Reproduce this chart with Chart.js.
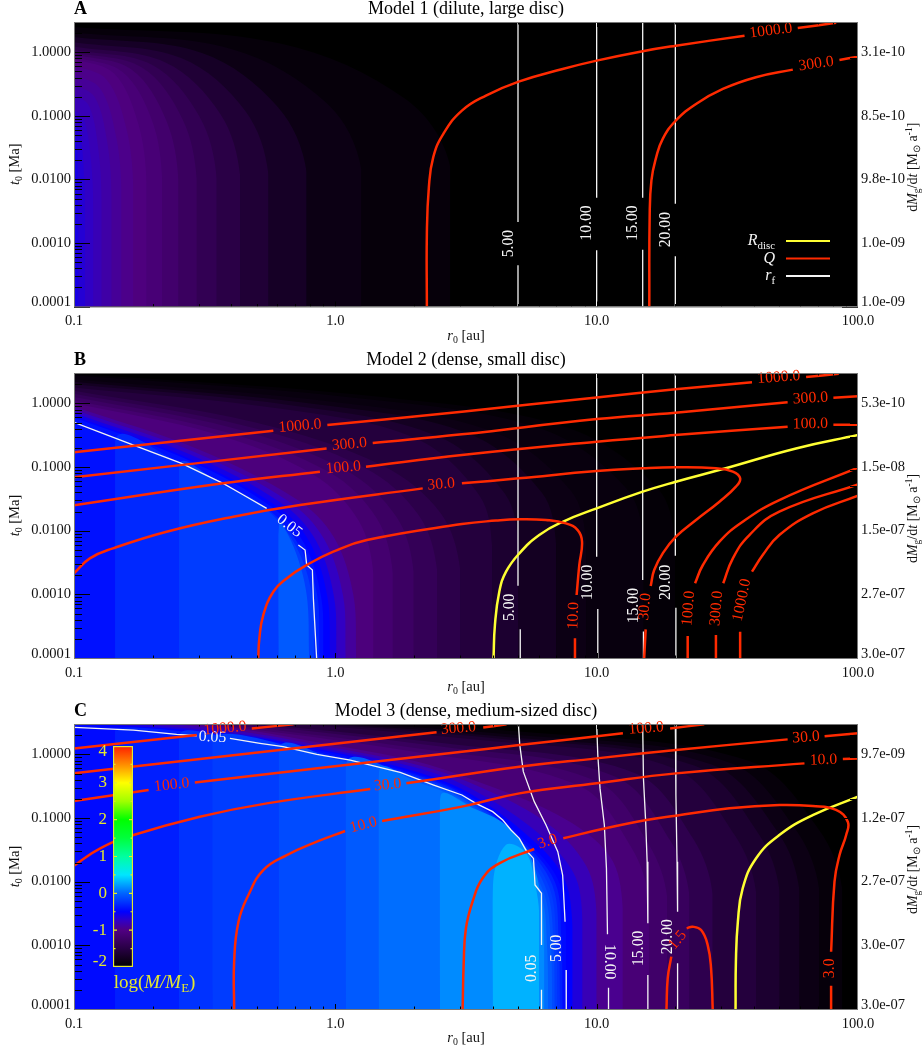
<!DOCTYPE html>
<html>
<head>
<meta charset="utf-8">
<title>Models</title>
<style>
body { margin: 0; background: #fff; }
canvas { position: absolute; }
</style>
<script src="https://cdn.jsdelivr.net/npm/chart.js@4"></script>
</head>
<body>
<canvas id="panelA" width="924" height="345" style="left:0px;top:0px"></canvas>
<canvas id="panelB" width="924" height="350" style="left:0px;top:345px"></canvas>
<canvas id="panelC" width="924" height="357" style="left:0px;top:695px"></canvas>
<canvas id="colourBar" width="140" height="270" style="left:74px;top:736px"></canvas>
<script>
// axis labels
const xLabels = ["0.1", "1.0", "10.0", "100.0"];
const xTicks = [0.1, 1, 10, 100];
const tLabels = ["0.0001", "0.0010", "0.0100", "0.1000", "1.0000"];
const tTicks = [1.156e-4, 1e-3, 1e-2, 0.1, 1];
const rateLabelsA = ["1.0e-09", "1.0e-09", "9.8e-10", "8.5e-10", "3.1e-10"];
const rateLabelsB = ["3.0e-07", "2.7e-07", "1.5e-07", "1.5e-08", "5.3e-10"];
const rateLabelsC = ["3.0e-07", "3.0e-07", "2.7e-07", "1.2e-07", "9.7e-09"];

// colour table of the colour bar: log(M/ME) and rgb
const colourValues = [-2, -1.5, -1, -0.75, -0.5, 0, 0.5, 1, 1.5, 2, 2.5, 3, 3.5, 4];
const colourStops = [[0,0,0],[40,0,68],[80,0,130],[50,0,195],[0,0,255],[0,100,255],[0,230,255],[0,255,160],[0,255,60],[0,255,0],[160,255,0],[255,255,0],[255,140,0],[255,30,0]];
const barTicks = [-1.84, -1, 0, 1, 2, 3, 3.84];
const barLabels = ["-2", "-1", "0", "1", "2", "3", "4"];

// filled contours: level and its boundary as [log r, log t], region below the boundary is above the level
const levelsA = [-1.93,-1.85,-1.72,-1.6,-1.48,-1.38,-1.28,-1.18,-1.1,-1.03,-0.97,-0.92,-0.86,-0.8,-0.74,-0.68,-0.62];
const bandsA = [
  [[-1,.4],[-.21,.14],[.27,-.74],[.44,-1.8],[.44,-4]],
  [[-1,.31],[-.395,.05],[-.03,-.81],[.1,-1.85],[.1,-4]],
  [[-1,.24],[-.51,-.01],[-.22,-.86],[-.11,-1.88],[-.11,-4]],
  [[-1,.16],[-.59,-.09],[-.345,-.92],[-.256,-1.92],[-.256,-4]],
  [[-1,.09],[-.65,-.16],[-.44,-.97],[-.364,-1.95],[-.364,-4]],
  [[-1,.04],[-.7,-.2],[-.52,-1.01],[-.454,-1.98],[-.454,-4]],
  [[-1,0],[-.74,-.24],[-.586,-1.04],[-.53,-2],[-.53,-4]],
  [[-1,-.03],[-.78,-.27],[-.648,-1.06],[-.6,-2.02],[-.6,-4]],
  [[-1,-.07],[-.814,-.31],[-.7,-1.09],[-.662,-2.03],[-.662,-4]],
  [[-1,-.1],[-.847,-.33],[-.755,-1.11],[-.722,-2.05],[-.722,-4]],
  [[-1,-.2],[-.875,-.43],[-.8,-1.19],[-.773,-2.1],[-.773,-4]],
  [[-1,-.35],[-.9,-.57],[-.84,-1.3],[-.818,-2.18],[-.818,-4]],
  [[-1,-.5],[-.92,-.71],[-.873,-1.41],[-.856,-2.25],[-.856,-4]],
  [[-1,-.65],[-.942,-.85],[-.907,-1.52],[-.894,-2.33],[-.894,-4]],
  [[-1,-.9],[-.96,-1.09],[-.935,-1.71],[-.926,-2.45],[-.926,-4]],
  [[-1,-1.1],[-.977,-1.27],[-.963,-1.85],[-.958,-2.55],[-.958,-4]],
  [[-1,-1.3],[-.99,-1.46],[-.985,-2],[-.983,-2.65],[-.983,-4]]
];

const levelsB = [-1.95,-1.9,-1.85,-1.75,-1.65,-1.55,-1.45,-1.35,-1.25,-1.15,-1.05,-0.9,-0.75,-0.6,-0.5,-0.42,-0.3,-0.2,-0.05];
const bandsB = [
  [[-1,.47],[.15,.11],[.886,-.38],[1.231,-1.32],[1.3,-2.17],[1.3,-4]],
  [[-1,.44],[.09,.08],[.788,-.4],[1.115,-1.34],[1.18,-2.18],[1.18,-4]],
  [[-1,.38],[-.02,.03],[.607,-.45],[.901,-1.37],[.96,-2.2],[.96,-4]],
  [[-1,.34],[-.08,-.01],[.513,-.48],[.79,-1.4],[.845,-2.22],[.845,-4]],
  [[-1,.3],[-.15,-.04],[.394,-.52],[.649,-1.42],[.7,-2.24],[.7,-4]],
  [[-1,.25],[-.2,-.09],[.312,-.56],[.552,-1.45],[.6,-2.26],[.6,-4]],
  [[-1,.2],[-.305,-.3],[.182,-.98],[.404,-1.73],[.478,-2.61],[.478,-4]],
  [[-1,.15],[-.347,-.35],[.112,-1.01],[.32,-1.76],[.39,-2.63],[.39,-4]],
  [[-1,.1],[-.389,-.39],[.04,-1.05],[.235,-1.79],[.3,-2.65],[.3,-4]],
  [[-1,.05],[-.427,-.44],[-.024,-1.08],[.159,-1.81],[.22,-2.66],[.22,-4]],
  [[-1,0],[-.461,-.48],[-.083,-1.12],[.089,-1.84],[.146,-2.68],[.146,-4]],
  [[-1,-.05],[-.525,-.72],[-.147,-1.51],[-.006,-2.1],[.069,-3.01],[.08,-4]],
  [[-1,-.1],[-.542,-.76],[-.178,-1.54],[-.043,-2.13],[.03,-3.03],[.04,-4]],
  [[-1,-.15],[-.558,-.8],[-.206,-1.57],[-.075,-2.15],[-.005,-3.04],[.005,-4]],
  [[-1,-.2],[-.569,-.85],[-.226,-1.61],[-.098,-2.18],[-.03,-3.05],[-.02,-4]],
  [[-1,-.22],[-.58,-.86],[-.246,-1.62],[-.121,-2.19],[-.054,-3.05],[-.045,-4]],
  [[-.843,-4],[-.84,-.55],[-.6,-.92],[-.43,-1.26],[-.26,-1.65],[-.14,-2.22],[-.07,-3],[-.06,-4]],
  [[-.598,-4],[-.595,-.95],[-.43,-1.29],[-.26,-1.68],[-.15,-2.25],[-.09,-3],[-.08,-4]],
  [[-.218,-4],[-.215,-1.9],[-.16,-2.25],[-.11,-3],[-.1,-4]]
];

const levelsC = [-1.93,-1.85,-1.75,-1.65,-1.55,-1.42,-1.3,-1.2,-1.1,-0.95,-0.8,-0.65,-0.5,-0.45,-0.35,-0.25,-0.2,-0.125,-0.05,0.04,0.15,0.3];
const bandsC = [
  [[-1,.75],[.764,.34],[1.587,-.11],[1.85,-1.18],[1.94,-2.12],[1.94,-4]],
  [[-1,.75],[.71,.3],[1.51,-.13],[1.765,-1.2],[1.852,-2.13],[1.852,-4]],
  [[-1,.75],[.666,.27],[1.44,-.16],[1.693,-1.22],[1.776,-2.14],[1.776,-4]],
  [[-1,.75],[.62,.25],[1.376,-.18],[1.62,-1.25],[1.7,-2.15],[1.7,-4]],
  [[-1,.75],[.566,.22],[1.297,-.22],[1.53,-1.28],[1.61,-2.17],[1.61,-4]],
  [[-1,.75],[.466,.15],[1.15,-.3],[1.37,-1.33],[1.444,-2.2],[1.444,-4]],
  [[-1,.75],[.41,.12],[1.072,-.35],[1.284,-1.37],[1.355,-2.22],[1.355,-4]],
  [[-1,.75],[.36,.07],[.998,-.42],[1.2,-1.42],[1.27,-2.25],[1.27,-4]],
  [[-1,.75],[.32,.03],[.936,-.5],[1.134,-1.47],[1.2,-2.3],[1.2,-4]],
  [[-1,.65],[-.4,.42],[0,.14],[.3,-.1],[.5,-.36],[.85,-.95],[1.05,-1.6],[1.1,-2.4],[1.1,-4]],
  [[-1,.6],[-.4,.38],[0,.1],[.3,-.15],[.5,-.42],[.8,-1.05],[.96,-1.75],[1,-2.5],[1,-4]],
  [[-1,.55],[-.4,.34],[0,.06],[.3,-.2],[.5,-.5],[.75,-1.15],[.91,-1.85],[.946,-2.6],[.946,-4]],
  [[-1,.5],[-.4,.32],[0,.03],[.3,-.26],[.5,-.58],[.72,-1.22],[.87,-1.9],[.908,-2.7],[.908,-4]],
  [[-1,.46],[-.4,.3],[0,.01],[.3,-.29],[.5,-.62],[.7,-1.25],[.85,-1.95],[.883,-2.8],[.883,-4]],
  [[-.843,-4],[-.84,.4],[-.4,.27],[0,-.02],[.3,-.31],[.5,-.65],[.7,-1.3],[.84,-2],[.865,-2.9],[.87,-4]],
  [[-.598,-4],[-.595,.31],[-.4,.26],[0,-.04],[.3,-.33],[.5,-.67],[.7,-1.33],[.83,-2.05],[.855,-3],[.86,-4]],
  [[-.47,-4],[-.467,.26],[0,-.06],[.3,-.35],[.5,-.69],[.7,-1.37],[.82,-2.1],[.845,-3],[.85,-4]],
  [[-.216,-4],[-.213,.1],[0,-.08],[.3,-.37],[.5,-.71],[.7,-1.42],[.81,-2.15],[.835,-3],[.84,-4]],
  [[.04,-4],[.043,-.13],[.3,-.39],[.5,-.74],[.7,-1.48],[.8,-2.2],[.825,-3],[.83,-4]],
  [[.166,-4],[.169,-.23],[.3,-.41],[.5,-.77],[.7,-1.55],[.79,-2.25],[.81,-3],[.815,-4]],
  [[.4,-4],[.403,-.65],[.53,-.85],[.65,-1.1],[.74,-1.55],[.785,-2.2],[.8,-3],[.8,-4]],
  [[.602,-4],[.604,-2],[.653,-1.42],[.73,-1.55],[.765,-2.05],[.78,-2.5],[.78,-4]]
];

// Q contours as [r, t], null = gap for a label
const qLinesA = [
  [[2.24,1e-4],[2.24,.0014],[2.28,.00758],[2.37,.0224],[2.59,.0521],[3.05,.121],[3.77,.209],[5.03,.346],[7.41,.547],[10,.74],[15,1.04],[20.1,1.27],[36.8,1.83],null,[58.8,2.41],[82.5,2.92]],
  [[15.9,1e-4],[15.95,.00256],[16.2,.00964],[16.9,.0224],[17.9,.0435],[20.1,.0845],[24,.154],[30.4,.265],[40.7,.405],[56.3,.534],null,[84.9,.758],[100,.855]]
];
const qLinesB = [
  [[.1,.17],[.579,.372],null,[.932,.457],[3.05,.74],[10,1.24],[20,1.66],[39.3,2.14],null,[63.3,2.59],[84.4,2.92]],
  [[.1,.0689],[.926,.196],null,[1.39,.238],[3.05,.326],[10,.567],[20,.713],[53.8,1.04],null,[80.5,1.23],[100,1.29]],
  [[.1,.025],[.372,.0554],[.873,.0845],null,[1.31,.101],[3.05,.154],[10,.25],[20,.318],[53.8,.43],null,[80.5,.462],[100,.462]],
  [[.1,.00214],[.115,.00368],[.141,.00528],[.226,.00964],[.407,.0166],[.733,.0253],[2.16,.0462],null,[3.05,.0554],[5.03,.0664],[10,.0865],[15,.0953],[20,.0988],[28.6,.0953],[33.2,.0845],[35.4,.0664],[34.1,.0491],[29.5,.0285],[24,.0147],[20.1,.00805],[17.9,.00441],[16.6,.00241],[16.1,.00135],null,[15.4,.000282],[15.2,1e-4]],
  [[.507,1e-4],[.512,.000204],[.53,.000473],[.579,.0011],[.651,.00178],[.777,.00289],[.982,.00468],[1.32,.00713],[3.05,.0127],[4.12,.0144],[5.03,.0151],[6.4,.0147],[7.63,.013],[8.46,.0102],[8.79,.00671],[8.58,.00289],[8.38,.000977],null,[8.26,.000204],[8.26,1e-4]],
  [[22.3,1e-4],[22.3,.000222],null,[23.8,.00149],[25.5,.00289],[29.5,.00671],[36.2,.0138],[50,.0303],[100,.0977]],
  [[28.6,1e-4],[28.6,.00023],null,[30.5,.00149],[33.2,.00368],[38.4,.00855],[50,.0199],[100,.0534]],
  [[35.4,1e-4],[35.4,.000259],null,[39.3,.00227],[43.2,.00415],[50,.00855],[67.1,.0187],[100,.0355]]
];
const qLinesC = [
  [[.1,1.24],[.295,2.01],null,[.479,2.56],[.692,2.96]],
  [[.1,.503],[2.44,2.22],null,[3.68,2.65],[4.52,2.96]],
  [[.1,.185],[.193,.275],null,[.29,.363],[3.05,1.1],[5.06,1.4],[12.6,2.14],null,[19.1,2.56],[25.8,2.96]],
  [[.1,.0178],[.126,.0334],[.169,.0541],[.303,.105],[.547,.17],[1.36,.285],null,[1.87,.351],[3.05,.473],[5.06,.64],[10,.865],[20.1,1.17],[53.8,1.72],null,[74.5,1.92],[100,2.14]],
  [[.41,1e-4],[.41,.000553],[.426,.00235],[.465,.00617],[.531,.0153],[.652,.0262],[.849,.0425],[1.09,.0625],null,[1.51,.0897],[3.05,.151],[5.06,.244],[10,.351],[20.1,.503],[62.4,.722],null,[87.5,.845],[100,.865]],
  [[3.07,1e-4],[3.1,.000553],[3.16,.00185],[3.35,.00485],[3.66,.0113],[4.24,.0194],[5.77,.0326],null,[7.45,.048],[10.5,.0672],[15.5,.0931],[20.1,.109],[32.2,.142],[50,.16],[67.1,.154],[82.4,.134],[91.4,.0875],[90.1,.0541],[85,.0262],[81.3,.01],[78.9,.000794],null,[78.9,.000232],[78.9,1e-4]],
  [[18.5,1e-4],[18.7,.000303],[19.3,.000664],null,[22.1,.00185],[23.3,.00196],[25.1,.00174],[26.6,.00101],[27.4,.000435],[27.8,1e-4]]
];

// disc radius contours
const discLinesB = [[[4.03,1e-4],[4.08,.00033],[4.24,.0011],[4.5,.00227],[5.06,.00441],[6.03,.00855],[7.41,.0138],[10,.0224],[15,.041],[20.1,.0588],[30.4,.093],[57.9,.196],[100,.318]]];
const discLinesC = [[[34,1e-4],[34.1,.000553],[34.7,.00235],[36.2,.00785],[40.7,.0232],[50,.0541],[67.1,.111],[100,.216]]];

// r_f contours, these are drawn straight from point to point
const rfLinesA = [
  [[5,3],[5,.00214],null,[5,.000446],[5,1e-4]],
  [[10,3],[10,.00515],null,[10,.000767],[10,1e-4]],
  [[15,3],[15,.00515],null,[15,.000785],[15,1e-4]],
  [[20,3],[20,.00415],null,[20,.000618],[20,1e-4]]
];
const rfLinesB = [
  [[.1,.503],[.126,.35],[.168,.222],[.258,.114],[.372,.0554],[.445,.0363],[.546,.0224],null,[.722,.00596],[.766,.00497],[.777,.00289],[.817,.00241],[.824,.000865],[.848,1e-4]],
  [[5,3],[5,.00137],null,[5.1,.000282],[5.1,1e-4]],
  [[10,3],[10,.00391],null,[10.1,.000589],[10.1,1e-4]],
  [[15,3],[15,.00168],null,[15.1,.00026],[15.1,1e-4]],
  [[20,3],[20,.00405],null,[20.1,.000617],[20.1,1e-4]]
];
const rfLinesC = [
  [[.1,2.65],[.169,2.41],[.247,2.06],[.295,1.96],null,[.395,1.78],[.515,1.49],[.631,1.32],[.849,1],[1.14,.815],[1.44,.64],[1.77,.52],[2.38,.33],[3.05,.23],[3.45,.17],[4,.126],[4.37,.0931],[4.7,.0649],[5.06,.048],[5.36,.0314],[5.73,.0232],[5.81,.00887],[6.15,.00656],[6.15,.00101],null,[6.15,.0002],[6.15,1e-4]],
  [[5.02,2.89],[5.08,1.4],[5.24,.535],[5.77,.181],[6.4,.0776],[7.1,.0296],[7.41,.0127],[7.57,.00235],null,[7.64,.00041],[7.65,1e-4]],
  [[10,2.96],[10.1,.977],[10.3,.292],[10.7,.0776],[10.9,.0162],[11,.00149],null,[11.1,.000216],[11.1,1e-4]],
  [[15,2.96],[15.1,.42],[15.4,.0875],[15.6,.0206],[15.7,.00222],null,[15.7,.000342],[15.7,1e-4]],
  [[20,2.96],[20.1,.23],[20.3,.0206],[20.4,.00338],null,[20.4,.000521],[20.4,1e-4]]
];

// contour labels: text, log r, log t, angle
const qTextA = [["1000.0",1.667,.34,-7],["300.0",1.84,-.183,-8]];
const rfTextA = [["5.00",.663,-3.01,-90],["10.00",.963,-2.686,-90],["15.00",1.14,-2.686,-90],["20.00",1.265,-2.79,-90]];
const qTextB = [["1000.0",-.135,-.356,-5],["300.0",.054,-.644,-5],["100.0",.031,-1.01,-5],["30.0",.405,-1.272,-5],["1000.0",1.697,.408,-4],["300.0",1.818,.079,-3],["100.0",1.818,-.325,-1],["10.0",.912,-3.335,-88],["30.0",1.185,-3.194,-85],["100.0",1.352,-3.22,-85],["300.0",1.459,-3.22,-85],["1000.0",1.556,-3.09,-78]];
const rfTextB = [["0.05",-.176,-1.927,38],["5.00",.668,-3.204,-90],["10.00",.966,-2.812,-90],["15.00",1.142,-3.178,-90],["20.00",1.265,-2.812,-90]];
const qTextC = [["1000.0",-.422,.408,-5],["100.0",-.626,-.482,-6],["30.0",.2,-.482,-6],["10.0",.108,-1.11,-15],["300.0",.471,.408,-5],["100.0",1.189,.408,-4],["30.0",1.801,.267,-4],["10.0",1.868,-.089,-2],["3.0",.812,-1.372,-18],["3.0",1.891,-3.361,-90],["1.5",1.31,-2.916,-50]];
const rfTextC = [["0.05",-.47,.267,3],["0.05",.752,-3.361,-90],["5.00",.847,-3.047,-90],["10.00",1.048,-3.257,90],["15.00",1.16,-3.047,-90],["20.00",1.274,-2.864,-90]];

const RED = "#ff2a00";
const YELLOW = "#ffff33";
const WHITE = "#f4f4f4";
const BAR_YELLOW = "#e4e830";
const SERIF = "'Liberation Serif'";

function levelColour(v) {
    let i = 0;
    while (i < colourValues.length - 2 && v > colourValues[i + 1]) i++;
    const f = (v - colourValues[i]) / (colourValues[i + 1] - colourValues[i]);
    const c = colourStops[i].map((a, k) => Math.round(a + (colourStops[i + 1][k] - a) * f));
    return "rgb(" + c.join(",") + ")";
}

function toPoints(line) {
    return line.map(p => p ? { x: p[0], y: p[1] } : { x: NaN, y: NaN });
}

function bandSets(levels, bands) {
    return bands.map((band, i) => ({
        data: band.map(p => ({ x: 10 ** p[0], y: 10 ** p[1] })),
        showLine: true,
        fill: "start",
        backgroundColor: levelColour(levels[i]),
        borderWidth: 0,
        borderColor: "rgba(0,0,0,0)",
        pointRadius: 0,
        tension: 0.35,
        order: 1000 - i
    }));
}

function lineSets(lines, colour, width, tension, order) {
    return lines.map(line => ({
        data: toPoints(line),
        showLine: true,
        borderColor: colour,
        borderWidth: width,
        pointRadius: 0,
        tension: tension,
        order: order
    }));
}

// mixed italic / subscript text
function drawRuns(ctx, runs, x, y, size, colour, angle, align) {
    ctx.save();
    ctx.translate(x, y);
    ctx.rotate(angle);
    ctx.fillStyle = colour;
    ctx.textBaseline = "alphabetic";
    ctx.textAlign = "left";
    let total = 0;
    const fontOf = r => (r.i ? "italic " : "") + (r.sub || r.sup ? size * 0.68 : size) + "px " + SERIF;
    runs.forEach(r => { ctx.font = fontOf(r); total += ctx.measureText(r.t).width; });
    let cx = align === "right" ? -total : -total / 2;
    runs.forEach(r => {
        ctx.font = fontOf(r);
        ctx.fillText(r.t, cx, r.sub ? size * 0.22 : r.sup ? -size * 0.38 : 0);
        cx += ctx.measureText(r.t).width;
    });
    ctx.restore();
}

const framePlugin = {
    id: "frame",
    beforeDatasetsDraw(chart) {
        const a = chart.chartArea;
        chart.ctx.fillStyle = "#000";
        chart.ctx.fillRect(a.left, a.top, a.width, a.height);
    },
    afterDatasetsDraw(chart, args, opts) {
        const ctx = chart.ctx;
        const a = chart.chartArea;
        const sx = chart.scales.x;
        const sy = chart.scales.y;

        // contour labels
        ctx.textAlign = "center";
        ctx.textBaseline = "middle";
        ctx.font = "15.7px " + SERIF;
        [[opts.rfText, WHITE], [opts.qText, RED]].forEach(([list, colour]) => {
            list.forEach(l => {
                ctx.save();
                ctx.translate(sx.getPixelForValue(10 ** l[1]), sy.getPixelForValue(10 ** l[2]));
                ctx.rotate(l[3] * Math.PI / 180);
                ctx.fillStyle = colour;
                ctx.fillText(l[0], 0, 0);
                ctx.restore();
            });
        });

        // ticks point inside the frame
        ctx.strokeStyle = "#000";
        ctx.lineWidth = 1;
        ctx.beginPath();
        for (let d = -1; d < 2; d++) {
            for (let m = 1; m < 10; m++) {
                const px = Math.round(sx.getPixelForValue(m * 10 ** d)) + 0.5;
                const len = m === 1 ? 5 : 2.5;
                ctx.moveTo(px, a.bottom); ctx.lineTo(px, a.bottom - len);
                ctx.moveTo(px, a.top); ctx.lineTo(px, a.top + len);
            }
        }
        for (let d = -4; d < 1; d++) {
            for (let m = 1; m < 10; m++) {
                const v = m * 10 ** d;
                if (v > 3) continue;
                const py = Math.round(sy.getPixelForValue(v)) + 0.5;
                const len = m === 1 ? 16 : 8;
                ctx.moveTo(a.left, py); ctx.lineTo(a.left + len, py);
                ctx.moveTo(a.right, py); ctx.lineTo(a.right - len, py);
            }
        }
        ctx.stroke();
        ctx.strokeStyle = "#777";
        ctx.strokeRect(a.left + 0.5, a.top + 0.5, a.width - 1, a.height);

        // headings and axis titles
        const mid = (a.top + a.bottom) / 2;
        ctx.textBaseline = "alphabetic";
        ctx.fillStyle = "#000";
        ctx.textAlign = "left";
        ctx.font = "bold 18px " + SERIF;
        ctx.fillText(opts.letter, a.left, a.top - 8);
        ctx.textAlign = "center";
        ctx.font = "18px " + SERIF;
        ctx.fillText(opts.title, 466, a.top - 8);
        drawRuns(ctx, [{ t: "r", i: true }, { t: "0", sub: true }, { t: " [au]" }], 466, a.bottom + 33, 14.5, "#111", 0);
        drawRuns(ctx, [{ t: "t", i: true }, { t: "0", sub: true }, { t: " [Ma]" }], 19, mid, 14.5, "#111", -Math.PI / 2);
        drawRuns(ctx, [{ t: "d" }, { t: "M", i: true }, { t: "g", sub: true }, { t: "/d" }, { t: "t", i: true }, { t: " [M" }, { t: "\u2299", sub: true }, { t: " a" }, { t: "-1", sup: true }, { t: "]" }], 917, mid + 3, 14, "#111", -Math.PI / 2);

        // key, only in the first panel
        if (opts.key) {
            const keys = [
                [[{ t: "R", i: true }, { t: "disc", sub: true }], YELLOW, 241],
                [[{ t: "Q", i: true }], RED, 258.5],
                [[{ t: "r", i: true }, { t: "f", sub: true }], WHITE, 276]
            ];
            keys.forEach(k => {
                ctx.strokeStyle = k[1];
                ctx.lineWidth = 2.2;
                ctx.beginPath();
                ctx.moveTo(786, k[2]);
                ctx.lineTo(830, k[2]);
                ctx.stroke();
                drawRuns(ctx, k[0], 775, k[2] + 4, 16, "#f4f4f4", 0, "right");
            });
        }
    }
};

function noLabelPadding(s) {
    s.paddingTop = 0;
    s.paddingBottom = 0;
    s.paddingLeft = 0;
    s.paddingRight = 0;
}

function makePanel(id, height, top, bottom, letter, title, rateLabels, sets, qText, rfText, key) {
    return new Chart(document.getElementById(id), {
        type: "scatter",
        data: { datasets: sets },
        plugins: [framePlugin],
        options: {
            responsive: false,
            animation: false,
            events: [],
            layout: { padding: { top: top } },
            plugins: {
                legend: { display: false },
                tooltip: { enabled: false },
                frame: { letter: letter, title: title, qText: qText, rfText: rfText, key: key }
            },
            scales: {
                x: {
                    type: "logarithmic",
                    min: 0.1,
                    max: 100,
                    grid: { display: false, drawTicks: false },
                    border: { display: false },
                    afterBuildTicks: s => { s.ticks = xTicks.map(v => ({ value: v })); },
                    afterFit: s => { s.height = height - bottom; noLabelPadding(s); },
                    ticks: {
                        autoSkip: false,
                        maxRotation: 0,
                        padding: 6,
                        color: "#111",
                        font: { family: SERIF, size: 14.5 },
                        callback: (v, i) => xLabels[i]
                    }
                },
                y: {
                    type: "logarithmic",
                    position: "left",
                    min: 1e-4,
                    max: 3,
                    grid: { display: false, drawTicks: false },
                    border: { display: false },
                    afterBuildTicks: s => { s.ticks = tTicks.map(v => ({ value: v })); },
                    afterFit: s => { s.width = 74; noLabelPadding(s); },
                    ticks: {
                        autoSkip: false,
                        padding: 3,
                        color: "#111",
                        font: { family: SERIF, size: 14.5 },
                        callback: (v, i) => tLabels[i]
                    }
                },
                y2: {
                    type: "logarithmic",
                    position: "right",
                    min: 1e-4,
                    max: 3,
                    grid: { display: false, drawTicks: false },
                    border: { display: false },
                    afterBuildTicks: s => { s.ticks = tTicks.map(v => ({ value: v })); },
                    afterFit: s => { s.width = 66; noLabelPadding(s); },
                    ticks: {
                        autoSkip: false,
                        padding: 3,
                        color: "#111",
                        font: { family: SERIF, size: 14.5 },
                        callback: (v, i) => rateLabels[i]
                    }
                }
            }
        }
    });
}

makePanel("panelA", 345, 22, 306.5, "A", "Model 1 (dilute, large disc)", rateLabelsA,
    [...bandSets(levelsA, bandsA), ...lineSets(rfLinesA, WHITE, 1.3, 0, 2), ...lineSets(qLinesA, RED, 2.5, 0.45, 0)],
    qTextA, rfTextA, true);

makePanel("panelB", 350, 28, 313, "B", "Model 2 (dense, small disc)", rateLabelsB,
    [...bandSets(levelsB, bandsB), ...lineSets(rfLinesB, WHITE, 1.3, 0, 2), ...lineSets(discLinesB, YELLOW, 2.5, 0.45, 1), ...lineSets(qLinesB, RED, 2.5, 0.45, 0)],
    qTextB, rfTextB, false);

makePanel("panelC", 357, 29, 314, "C", "Model 3 (dense, medium-sized disc)", rateLabelsC,
    [...bandSets(levelsC, bandsC), ...lineSets(rfLinesC, WHITE, 1.3, 0, 2), ...lineSets(discLinesC, YELLOW, 2.5, 0.45, 1), ...lineSets(qLinesC, RED, 2.5, 0.45, 0)],
    qTextC, rfTextC, false);

// colour bar on top of panel C
const barTicksPlugin = {
    id: "barMarks",
    afterDatasetsDraw(chart) {
        const ctx = chart.ctx;
        const a = chart.chartArea;
        const sy = chart.scales.y;
        ctx.strokeStyle = BAR_YELLOW;
        ctx.lineWidth = 1.2;
        ctx.beginPath();
        for (let i = 1; i < 12; i++) {
            const py = sy.getPixelForValue(-2 + i * 0.5);
            const len = i % 2 === 0 ? 4 : 2.5;
            ctx.moveTo(a.left, py); ctx.lineTo(a.left + len, py);
            ctx.moveTo(a.right, py); ctx.lineTo(a.right - len, py);
        }
        ctx.stroke();
        drawRuns(ctx, [{ t: "log(" }, { t: "M/M", i: true }, { t: "E", sub: true }, { t: ")" }], a.left + 41.5, a.bottom + 20.5, 19, BAR_YELLOW, 0);
    }
};

new Chart(document.getElementById("colourBar"), {
    type: "bar",
    data: {
        labels: ["log(M/ME)"],
        datasets: [{
            data: [[-2, 4]],
            barPercentage: 1,
            categoryPercentage: 1,
            borderColor: BAR_YELLOW,
            borderWidth: 1.5,
            borderSkipped: false,
            backgroundColor: c => {
                const area = c.chart.chartArea;
                if (!area) return "#000";
                const g = c.chart.ctx.createLinearGradient(0, area.bottom, 0, area.top);
                colourValues.forEach(v => g.addColorStop((v + 2) / 6, levelColour(v)));
                return g;
            }
        }]
    },
    plugins: [barTicksPlugin],
    options: {
        responsive: false,
        animation: false,
        events: [],
        layout: { padding: { top: 10, bottom: 39, right: 81 } },
        plugins: { legend: { display: false }, tooltip: { enabled: false } },
        scales: {
            x: { display: false },
            y: {
                min: -2,
                max: 4,
                grid: { display: false, drawTicks: false },
                border: { display: false },
                afterBuildTicks: s => { s.ticks = barTicks.map(v => ({ value: v })); },
                afterFit: s => { s.width = 39; noLabelPadding(s); },
                ticks: {
                    autoSkip: false,
                    padding: 6,
                    color: BAR_YELLOW,
                    font: { family: SERIF, size: 17 },
                    callback: (v, i) => barLabels[i]
                }
            }
        }
    }
});
</script>
</body>
</html>
